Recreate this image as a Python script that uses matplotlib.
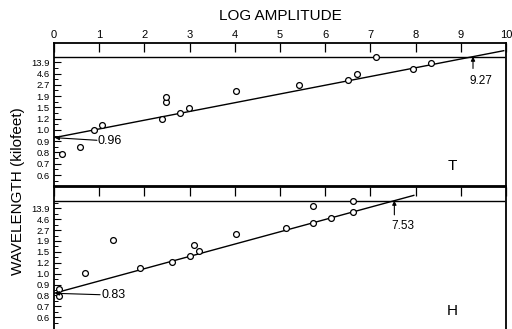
import matplotlib
matplotlib.use("Agg")
import matplotlib.pyplot as plt
import numpy as np

plt.rcParams['font.family'] = ['Liberation Sans', 'DejaVu Sans']

# Y-axis: wavelength tick labels at evenly spaced scale positions 0..10
wave_labels = ["0.6", "0.7", "0.8", "0.9", "1.0", "1.2", "1.5", "1.9", "2.7", "4.6", "13.9"]
wave_pos = list(range(len(wave_labels)))

x_ticks = list(range(0, 11))

# T panel data (x = log amplitude, y = scale position)
T_x = [0.18, 0.58, 0.88, 1.07, 2.38, 2.48, 2.48, 2.78, 2.99, 4.02, 5.43, 6.51, 6.71, 7.95, 8.34, 7.12]
T_y = [1.88, 2.48, 3.99, 4.44, 4.97, 6.45, 6.95, 5.47, 5.97, 7.45, 7.96, 8.43, 8.99, 9.41, 9.96, 10.5]
T_asym = 10.5
T_intercept = 3.31      # position of 0.96
T_cross = 9.27
T_line_end = 9.95

# H panel data
H_x = [0.10, 0.10, 0.69, 1.30, 1.90, 2.60, 3.00, 3.10, 3.21, 4.03, 5.14, 5.73, 5.73, 6.13, 6.61, 6.61]
H_y = [2.57, 1.95, 4.04, 7.09, 4.55, 5.10, 5.62, 6.63, 6.11, 7.61, 8.16, 8.68, 10.21, 9.14, 9.63, 10.7]
H_asym = 10.7
H_intercept = 2.20      # position of 0.83
H_cross = 7.53
H_line_end = 7.96

W, H = 512, 329
fig = plt.figure(figsize=(W / 100, H / 100), dpi=100)

def fx(px):
    return px / W

def fy(py):
    return 1 - py / H

axT = fig.add_axes([fx(54), fy(186.5), fx(452), (186.5 - 43) / H])
axH = fig.add_axes([fx(54), fy(332.3), fx(452), (332.3 - 186.5) / H])

def style(ax, ylim, top_labels):
    ax.set_xlim(0, 10)
    ax.set_ylim(*ylim)
    for s in ax.spines.values():
        s.set_linewidth(1.3)
    ax.xaxis.set_ticks_position('top')
    ax.set_xticks(x_ticks)
    ax.tick_params(axis='x', direction='in', length=6.5, width=0.9, pad=2.5,
                   labelsize=8, labeltop=top_labels, labelbottom=False)
    ax.set_yticks(wave_pos)
    ax.set_yticklabels(wave_labels)
    ax.set_yticks(np.arange(-0.5, 10.6, 1.0), minor=True)
    ax.tick_params(axis='y', which='major', direction='in', length=5, width=0.8,
                   pad=3, labelsize=6.8)
    ax.tick_params(axis='y', which='minor', direction='in', length=3, width=0.7)

style(axT, (-1.02, 11.71), True)
style(axH, (-1.38, 12.0), False)
axH.spines['bottom'].set_visible(False)

def panel(ax, xs, ys, asym, icpt, cross, xend):
    ax.plot([0, 9.95], [asym, asym], color='black', lw=1.0, zorder=2)
    slope = (asym - icpt) / cross
    lx = np.array([0, xend])
    ax.plot(lx, icpt + slope * lx, color='black', lw=1.0, zorder=2)
    ax.plot(xs, ys, 'o', ms=4.2, mfc='white', mec='black', mew=0.9, zorder=3,
            clip_on=False)

panel(axT, T_x, T_y, T_asym, T_intercept, T_cross, T_line_end)
panel(axH, H_x, H_y, H_asym, H_intercept, H_cross, H_line_end)

arrow = dict(arrowstyle='-|>', lw=0.8, color='black', mutation_scale=6,
             shrinkA=0, shrinkB=0)

# T annotations
axT.annotate('', xy=(0.02, T_intercept), xytext=(0.95, 3.08), arrowprops=arrow)
axT.text(0.97, 3.06, '0.96', fontsize=9, ha='left', va='center')
axT.annotate('', xy=(T_cross, T_asym), xytext=(T_cross, 9.45), arrowprops=arrow)
axT.text(9.2, 8.34, '9.27', fontsize=8.5, ha='left', va='center')
axT.text(8.82, 0.8, 'T', fontsize=11, ha='center', va='center')

# H annotations
axH.annotate('', xy=(0.02, H_intercept), xytext=(1.02, 2.07), arrowprops=arrow)
axH.text(1.06, 2.05, '0.83', fontsize=9, ha='left', va='center')
axH.annotate('', xy=(H_cross, H_asym), xytext=(H_cross, 9.4), arrowprops=arrow)
axH.text(7.46, 8.38, '7.53', fontsize=8.5, ha='left', va='center')
axH.text(8.82, 0.58, 'H', fontsize=11, ha='center', va='center')

fig.text(fx(280), fy(16.5), 'LOG AMPLITUDE', fontsize=11, ha='center', va='center')
fig.text(fx(18), fy(191), 'WAVELENGTH (kilofeet)', fontsize=11, ha='center',
         va='center', rotation=90)

fig.savefig('out.png', dpi=100)
